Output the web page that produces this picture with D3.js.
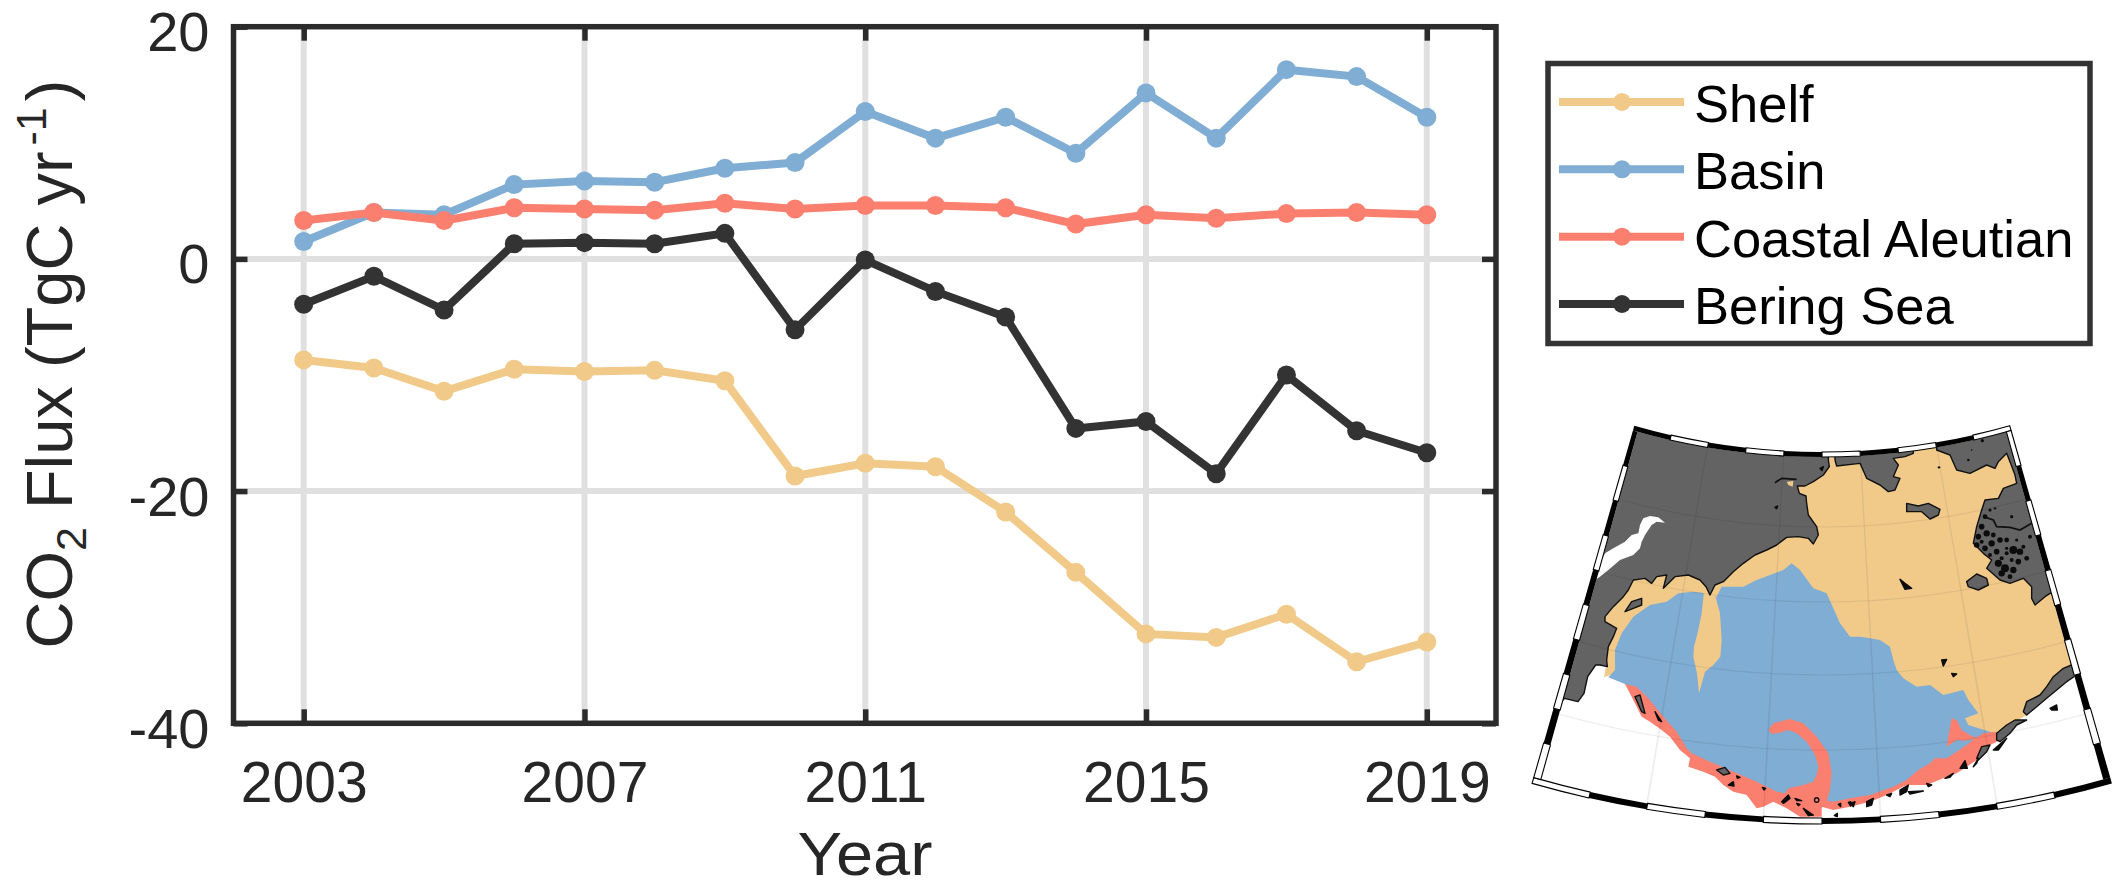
<!DOCTYPE html>
<html lang="en">
<head>
<meta charset="UTF-8">
<script src="https://d3js.org/d3.v7.min.js"></script>
<title>CO2 Flux</title>
<style>
  body { margin: 0; background: #fff; }
  text { font-family: "Liberation Sans", Arial, sans-serif; fill: #262626; }
</style>
</head>
<body>
<svg width="2112" height="888" id="chart"></svg>
<script>
// chart data
const years = d3.range(2003, 2020);
const shelf = [-8.7, -9.4, -11.4, -9.5, -9.7, -9.6, -10.5, -18.7, -17.6, -17.9, -21.8, -27, -32.3, -32.6, -30.6, -34.7, -33];
const basin = [1.5, 4.0, 3.8, 6.4, 6.7, 6.6, 7.8, 8.3, 12.7, 10.4, 12.2, 9.1, 14.3, 10.4, 16.3, 15.7, 12.2];
const coastal = [3.3, 4.0, 3.3, 4.4, 4.3, 4.2, 4.8, 4.3, 4.6, 4.6, 4.4, 3.0, 3.8, 3.5, 3.9, 4.0, 3.8];
const bering = [-3.9, -1.5, -4.4, 1.3, 1.4, 1.3, 2.2, -6.1, -0.1, -2.8, -5.0, -14.6, -14.0, -18.5, -10, -14.8, -16.7];
const seriesNames = ["Shelf", "Basin", "Coastal Aleutian", "Bering Sea"];
const seriesValues = [shelf, basin, coastal, bering];
const seriesColors = ["#f1ca8a", "#7fadd3", "#fb7f6f", "#333333"];
const xTicks = [2003, 2007, 2011, 2015, 2019];
const yTicks = [-40, -20, 0, 20];

// inset map outlines, traced in four tiles of the picture
const nw = pts => pts.map(p => [p[0] + 300, p[1] + 60]);
const ne = pts => pts.map(p => [p[0] + 1050, p[1] + 60]);
const sw = pts => pts.map(p => [p[0] + 300, p[1] + 810]);
const se = pts => pts.map(p => [p[0] + 1050, p[1] + 810]);

const shelfArea = [[312,832],[318,800],[300,700],[300,480],[1000,170],[1600,100],[1760,500],[1740,810],[1690,810],[1580,945],[1490,1000],[1100,1000],[400,800]];
const basinArea = [[325,832],
    ...nw([[45,750],[45,690],[65,640],[100,590],[150,555],[200,545],[235,520],[280,515],[315,520],[350,530],[365,500],[400,500],[430,500],[470,480],[510,465],[550,450],[575,430],[600,450],[640,505],[680,520],[700,565],[720,610],[750,650]]),
    ...ne([[30,650],[60,655],[90,660],[120,680],[130,720],[140,750]]),
    ...se([[160,25],[200,50],[240,45],[280,75],[340,60],[355,90],[385,130],[345,145],[355,165],[420,185],[440,195],[300,270],[100,370],[0,405]]),
    ...sw([[690,410],[540,380],[290,280],[200,180],[100,70],[75,42]])];
const shelfSliver = [[612,575],[645,585],[660,640],[665,720],[661,770],[640,795],[615,815],[597,880],[591,820],[580,770],[582,740],[595,690],[605,640]];
const shelfPatch = nw([[560,185],[580,183],[578,200],[565,195]]);
const coastalStrip = sw([[75,42],[110,50],[145,85],[190,140],[230,185],[260,235],[275,250],[330,275],[400,305],[470,335],[530,365],[700,395]])
    .concat(se([[0,385],[60,375],[130,350],[170,330],[205,300],[240,280],[255,265],[290,265],[320,245],[350,225],[375,205],[400,190],[435,185],[445,190],[440,215],[400,235],[380,270],[350,290],[320,310],[280,325],[230,345],[170,345],[150,355],[110,375],[60,395],[0,410]]))
    .concat(sw([[700,420],[665,410],[665,440],[600,440],[560,415],[520,395],[490,410],[470,415],[440,375],[400,365],[370,345],[345,320],[310,305],[265,290],[270,265],[240,240],[210,200],[185,180],[150,155],[125,140],[105,100]]));
const coastalHook = sw([[555,370],[565,355],[610,345],[640,335],[650,315],[655,290],[645,255],[620,215],[590,190],[565,180],[540,188],[515,192],[505,180],[520,160],[570,147],[610,160],[650,200],[685,250],[695,310],[690,360],[680,395],[660,420],[600,420]]);
const coastalFin = se([[305,145],[320,150],[335,180],[360,195],[380,205],[345,212],[320,210],[290,230],[295,200]]);
const landWest = [[300,40]].concat(nw([[690,60],[685,120],[688,140],[670,165],[640,185],[615,198],[592,198],[598,220],[618,228],[620,250],[625,285],[650,320],[655,345],[640,372],[625,355],[595,350],[560,352],[530,375],[500,390],[465,405],[430,430],[400,455],[370,485],[345,495],[330,525],[318,500],[300,480],[265,465],[225,470],[200,495],[190,505],[200,465],[170,470],[155,490],[135,475],[100,480],[85,510],[70,530],[40,560],[15,590],[15,605],[50,625],[40,650],[25,680],[20,720],[22,740]]))
    .concat([[300,795],[287,795],[263,830],[252,880],[234,905],[193,895],[150,950]]);
const okhotsk = nw([[130,295],[150,288],[175,292],[195,308],[170,305],[155,315],[135,345],[125,365],[120,385],[100,405],[60,420],[25,450],[0,470],[-30,490],[15,400],[40,385],[75,365],[95,345],[115,340],[120,315]]);
const landTop = nw([[705,60],[705,120],[710,138]]).concat(ne([[30,130],[50,175],[90,195],[115,215],[135,210],[150,175],[130,170],[145,135],[130,115],[165,110],[190,100],[190,40]]));
const landEast = ne([[260,90],[300,105],[320,150],[360,160],[410,135],[435,145],[445,125],[470,100],[480,125],[495,165],[500,190],[460,205],[445,235],[405,240],[395,270],[380,320],[370,370],[400,400],[425,420],[410,445],[450,480],[480,490],[520,475],[545,500],[545,535],[555,555],[585,530],[600,520],[680,520],[560,-30],[260,40]]);
const landAlaska = se([[520,125],[530,95],[570,75],[590,50],[610,20],[640,-5],[700,-30],[720,0],[680,15],[650,35],[620,60],[590,85],[560,110],[530,135]]);
const islands = [
    ne([[170,250],[205,258],[235,250],[270,268],[265,285],[240,297],[215,275],[170,275]]),
    ne([[350,485],[380,462],[410,475],[415,495],[385,510],[355,500]]),
    nw([[75,575],[95,545],[125,535],[125,555],[100,565]]),
    se([[440,190],[470,165],[495,150],[530,150],[500,165],[480,190],[450,215],[440,210]]),
    se([[380,265],[395,230],[420,225],[410,245],[385,270]]),
    sw([[105,80],[120,75],[135,130],[125,125]]),
    sw([[350,300],[375,292],[390,310],[370,315]])
];
const blackIslands = [
    ne([[150,478],[165,490],[185,505],[165,508]]), ne([[275,720],[290,718],[280,738]]),
    se([[600,115],[620,105],[622,120],[605,120]]), se([[305,10],[320,12],[310,20]]),
    se([[150,360],[175,345],[170,365],[150,375]]), se([[230,340],[245,345],[235,350]]),
    se([[50,395],[70,385],[65,405],[50,410]]), se([[0,400],[15,395],[10,410]]),
    se([[285,325],[310,310],[300,322]]), se([[330,295],[345,272],[352,295]]),
    se([[110,375],[125,370],[120,380]]), se([[175,365],[220,363],[180,372]]),
    se([[370,290],[385,265],[380,280]]), se([[430,240],[470,205],[445,240]]),
    sw([[165,125],[185,155],[175,150]]), sw([[410,318],[420,322],[412,325]]),
    sw([[385,345],[400,335],[402,348]]), sw([[487,352],[497,355],[492,360]]),
    sw([[545,395],[565,375],[570,385],[550,400]]), sw([[585,385],[605,392],[590,392]]),
    sw([[590,400],[600,403],[595,407]]), sw([[610,415],[640,435],[625,437]]),
    sw([[715,403],[722,400],[722,410]]), sw([[745,397],[752,395],[752,408]]), sw([[703,437],[712,430],[712,440]]),
    nw([[525,262],[533,258],[530,266]]), nw([[660,145],[670,140],[666,152]])
];
// lakes of the delta and other specks, [x, y, size]
const specks = [[405,290,6],[420,270,4],[395,320,7],[385,350,7],[410,340,8],[430,345,6],[380,375,7],[405,385,7],[395,365,5],[425,370,8],[450,360,7],[470,360,6],[440,395,7],[490,390,10],[510,395,8],[470,400,5],[530,415,6],[445,430,9],[465,445,10],[490,450,8],[455,460,8],[505,425,7],[520,380,5],[540,350,5],[500,360,4],[470,385,4],[485,420,5],[435,265,3],[485,290,4],[420,405,5],[480,470,6],[455,415,5],[397,62,4],[365,90,2],[355,120,3],[267,142,3]];
const deltaRiver = ne([[400,290],[430,300],[440,320],[480,322],[510,330],[545,310]]);
const northRiver = nw([[525,188],[545,175],[590,178]]);

// frame of the map: a conic sector round this apex
const apex = [1822, -231];
const rTop = 688, rBottom = 1049, sectorDeg = 15.55, bandDeg = 0.4;
const parallels = [758, 833, 906, 981];
const meridians = [-9.6, -3.2, 3.2, 9.6];

const svg = d3.select("#chart");
const m = {left: 233.5, right: 1496, top: 26.7, bottom: 723.3};

const x = d3.scaleLinear().domain([2002.0, 2020.0]).range([233.5, 1497]);
const y = d3.scaleLinear().domain([-40, 20]).range([m.bottom, m.top]);

// grid
svg.append("g").selectAll("line").data(xTicks).join("line")
    .attr("x1", d => x(d)).attr("x2", d => x(d))
    .attr("y1", m.top).attr("y2", m.bottom)
    .attr("stroke", "#e0e0e0").attr("stroke-width", 6);
svg.append("g").selectAll("line").data(yTicks.slice(1, 3)).join("line")
    .attr("x1", m.left).attr("x2", m.right)
    .attr("y1", d => y(d)).attr("y2", d => y(d))
    .attr("stroke", "#e0e0e0").attr("stroke-width", 6);

// axes
function styleAxis(g, size) {
    g.select(".domain").remove();
    g.selectAll(".tick line").attr("stroke", "#2b2b2b").attr("stroke-width", 5.5);
    g.selectAll(".tick text").attr("font-size", size).attr("fill", "#262626");
}
svg.append("g").attr("transform", `translate(0,${m.bottom})`)
    .call(d3.axisBottom(x).tickValues(xTicks).tickFormat(d3.format("d")).tickSizeInner(-14).tickPadding(0))
    .call(styleAxis, 57)
    .call(g => g.selectAll(".tick text").attr("y", 38).attr("dy", "0.71em"));
svg.append("g").attr("transform", `translate(0,${m.top})`)
    .call(d3.axisTop(x).tickValues(xTicks).tickFormat("").tickSizeInner(-14))
    .call(styleAxis, 57);
svg.append("g").attr("transform", `translate(${m.left},0)`)
    .call(d3.axisLeft(y).tickValues(yTicks).tickFormat(d => String(d)).tickSizeInner(-14).tickPadding(0))
    .call(styleAxis, 56)
    .call(g => g.selectAll(".tick text").attr("x", -24).attr("dy", 24));
svg.append("g").attr("transform", `translate(${m.right},0)`)
    .call(d3.axisRight(y).tickValues(yTicks).tickFormat("").tickSizeInner(-14))
    .call(styleAxis, 57);

// series
const line = d3.line().x((d, i) => x(years[i])).y(d => y(d));
seriesValues.forEach((vals, k) => {
    svg.append("path").attr("d", line(vals))
        .attr("fill", "none").attr("stroke", seriesColors[k]).attr("stroke-width", 8);
    svg.append("g").selectAll("circle").data(vals).join("circle")
        .attr("cx", (d, i) => x(years[i])).attr("cy", d => y(d)).attr("r", 9.5)
        .attr("fill", seriesColors[k]);
});

// plot box
svg.append("rect").attr("x", m.left).attr("y", m.top)
    .attr("width", m.right - m.left).attr("height", m.bottom - m.top)
    .attr("fill", "none").attr("stroke", "#2b2b2b").attr("stroke-width", 5.5);

// axis titles
svg.append("text").attr("x", 865).attr("y", 875).attr("text-anchor", "middle")
    .attr("font-size", 61).attr("textLength", 135).attr("lengthAdjust", "spacingAndGlyphs").text("Year");
const yLabel = svg.append("text").attr("transform", "translate(72,364) rotate(-90)")
    .attr("text-anchor", "middle").attr("font-size", 65);
yLabel.append("tspan").text("CO");
yLabel.append("tspan").attr("font-size", 43).attr("dy", 14).text("2");
yLabel.append("tspan").attr("dy", -14).text(" Flux (TgC yr");
yLabel.append("tspan").attr("font-size", 43).attr("dy", -26).attr("dx", 6).text("-1");
yLabel.append("tspan").attr("dy", 26).attr("dx", 6).text(")");

// legend
const legend = svg.append("g");
legend.append("rect").attr("x", 1548).attr("y", 63.5).attr("width", 542).attr("height", 280)
    .attr("fill", "#fff").attr("stroke", "#333").attr("stroke-width", 5.5);
const legendY = d3.scalePoint().domain(seriesNames).range([102, 304]);
seriesNames.forEach((name, k) => {
    legend.append("line").attr("x1", 1559).attr("x2", 1684)
        .attr("y1", legendY(name)).attr("y2", legendY(name))
        .attr("stroke", seriesColors[k]).attr("stroke-width", 8);
    legend.append("circle").attr("cx", 1622).attr("cy", legendY(name)).attr("r", 9)
        .attr("fill", seriesColors[k]);
    legend.append("text").attr("x", 1694).attr("y", legendY(name) + 20)
        .attr("font-size", 52.5).style("fill", "#000").text(name);
});

// inset map
const mapX = d3.scaleLinear().domain([0, 1836]).range([1500, 2112]);
const mapY = d3.scaleLinear().domain([0, 1464]).range([400, 888]);
const track = d3.line().x(d => mapX(d[0])).y(d => mapY(d[1]));
const outline = d3.line().x(d => mapX(d[0])).y(d => mapY(d[1])).curve(d3.curveLinearClosed);
const arc = d3.arc();
const rad = d => d * Math.PI / 180;
const sectorArc = (r0, r1, a0, a1) => arc({innerRadius: r0, outerRadius: r1,
    startAngle: rad(180 + a0), endAngle: rad(180 + a1)});

const map = svg.append("g");
map.append("clipPath").attr("id", "sector").append("path")
    .attr("transform", `translate(${apex})`)
    .attr("d", sectorArc(rTop, rBottom, -sectorDeg, sectorDeg));
const inner = map.append("g").attr("clip-path", "url(#sector)");
function fillAll(list, color, edge) {
    inner.append("g").selectAll("path").data(list).join("path")
        .attr("d", outline).attr("fill", color)
        .attr("stroke", edge || "none").attr("stroke-width", edge ? 1.4 : 0)
        .attr("stroke-linejoin", "round");
}
fillAll([shelfArea], "#f1ca8a");
fillAll([basinArea], "#7fadd3");
fillAll([shelfSliver], "#f1ca8a");
fillAll([coastalStrip, coastalHook, coastalFin], "#fb7f6f");
fillAll([landWest, landTop, landEast, landAlaska], "#636363", "#111");
fillAll([okhotsk], "#fff");
fillAll(islands, "#636363", "#111");
fillAll([shelfPatch], "#f1ca8a");
fillAll(blackIslands, "#0c0c0c", "#0c0c0c");
inner.append("g").selectAll("path").data([deltaRiver, northRiver]).join("path")
    .attr("d", track).attr("fill", "none").attr("stroke", "#111").attr("stroke-width", 1.8);
inner.append("g").selectAll("circle").data(specks).join("circle")
    .attr("cx", d => mapX(d[0] + 1050)).attr("cy", d => mapY(d[1] + 60)).attr("r", d => d[2] / 2.5)
    .attr("fill", "#0c0c0c");
inner.append("circle").attr("cx", mapX(950)).attr("cy", mapY(1200)).attr("r", 2.2)
    .attr("fill", "none").attr("stroke", "#111").attr("stroke-width", 1.4);

// graticule
inner.append("g").selectAll("path").data(parallels).join("path")
    .attr("transform", `translate(${apex})`)
    .attr("d", d => sectorArc(d - 0.6, d + 0.6, -sectorDeg, sectorDeg))
    .attr("fill", "#000").attr("opacity", 0.07);
inner.append("g").selectAll("path").data(meridians).join("path")
    .attr("transform", `translate(${apex})`)
    .attr("d", d => sectorArc(rTop, rBottom, d - 0.05, d + 0.05))
    .attr("fill", "#000").attr("opacity", 0.07);

// black and white edge of the map
const band = map.append("g").attr("transform", `translate(${apex})`);
const segDeg = (sectorDeg + bandDeg) * 2 / 10;
const start = -sectorDeg - bandDeg;
const segR = (rBottom - rTop) / 10;
function piece(r0, r1, a0, a1, black) {
    band.append("path").attr("d", sectorArc(r0, r1, a0, a1))
        .attr("fill", black ? "#000" : "#fff")
        .attr("stroke", "#000").attr("stroke-width", black ? 0 : 1.1);
}
d3.range(10).forEach(i => {
    const a0 = start + i * segDeg, a1 = a0 + segDeg;
    piece(rTop - 5, rTop, a0, a1, i % 2 === 1);
    piece(rBottom, rBottom + 6, a0, a1, i % 2 === 0);
    const r0 = rTop + i * segR, r1 = r0 + segR;
    piece(r0, r1, -sectorDeg - bandDeg, -sectorDeg, i % 2 === 1);
    piece(r0, r1, sectorDeg, sectorDeg + bandDeg, i % 2 === 0);
});
</script>
</body>
</html>
